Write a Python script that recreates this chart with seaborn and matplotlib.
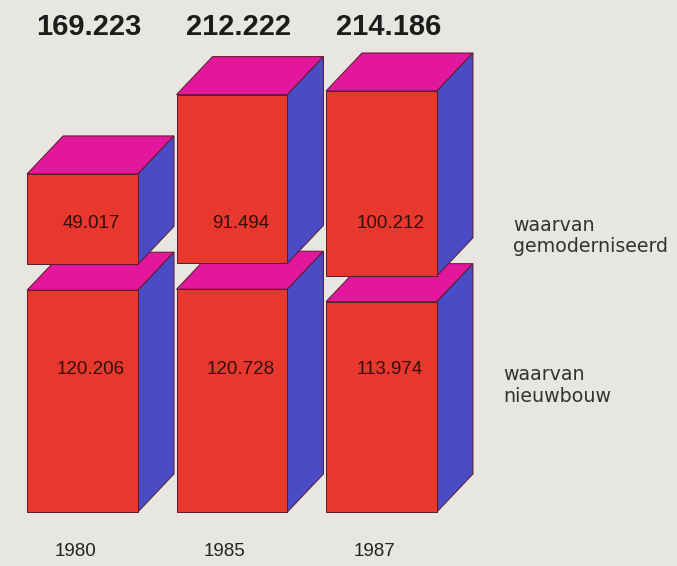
import matplotlib
matplotlib.use("Agg")
import matplotlib.pyplot as plt
from matplotlib.patches import Polygon
import seaborn as sns

# data (aantallen woningen x 1000)
years = ["1980", "1985", "1987"]
nieuwbouw = [120.206, 120.728, 113.974]
gemoderniseerd = [49.017, 91.494, 100.212]
totaal = [169.223, 212.222, 214.186]

# colours of the box faces
RED = "#e8372c"
MAGENTA = "#e2179b"
BLUE = "#4a4cc6"
BG = "#e7e6e0"
EDGE = "#5a1a2a"

# drawing style
BAR_W = 0.742   # front width in category units
DX = 0.241      # depth to the right (category units)
DY = 20.6       # depth upwards (data units)
GAP = 14        # lift of the upper block above the lower front

sns.set_style("white")
plt.rcParams["font.family"] = ["Liberation Sans", "DejaVu Sans"]

fig = plt.figure(figsize=(6.77, 5.66), dpi=100, facecolor=BG)
ax = fig.add_axes([0, 0, 1, 1])
ax.set_facecolor(BG)

# lower blocks: front faces through seaborn
sns.barplot(x=years, y=nieuwbouw, color=RED, saturation=1, width=BAR_W,
            edgecolor=EDGE, linewidth=0.7, zorder=3, ax=ax)
fronts = list(ax.patches)


def box_faces(x0, w, y0, h, z):
    x1 = x0 + w
    y1 = y0 + h
    top = Polygon([(x0, y1), (x1, y1), (x1 + DX, y1 + DY), (x0 + DX, y1 + DY)],
                  closed=True, facecolor=MAGENTA, edgecolor=EDGE, linewidth=0.7, zorder=z)
    side = Polygon([(x1, y0), (x1 + DX, y0 + DY), (x1 + DX, y1 + DY), (x1, y1)],
                   closed=True, facecolor=BLUE, edgecolor=EDGE, linewidth=0.7, zorder=z)
    ax.add_patch(top)
    ax.add_patch(side)


for p in fronts:
    box_faces(p.get_x(), p.get_width(), 0, p.get_height(), 2)

# upper blocks
xs = [p.get_x() for p in fronts]
ws = [p.get_width() for p in fronts]
bottoms = [v + GAP for v in nieuwbouw]
ax.bar(xs, gemoderniseerd, width=ws, bottom=bottoms, align="edge", color=RED,
       edgecolor=EDGE, linewidth=0.7, zorder=5)
for x0, w, b, h in zip(xs, ws, bottoms, gemoderniseerd):
    box_faces(x0, w, b, h, 4)

# labels
for i in range(len(years)):
    ax.text(i + 0.045, 263, f"{totaal[i]:.3f}", ha="center", va="center",
            fontsize=21, fontweight="bold", color="#1c1c1c", zorder=10)
    ax.text(i + 0.06, 156.6, f"{gemoderniseerd[i]:.3f}", ha="center", va="center",
            fontsize=13.5, color="#33100f", zorder=10)
    ax.text(i + 0.055, 77, f"{nieuwbouw[i]:.3f}", ha="center", va="center",
            fontsize=13.5, color="#33100f", zorder=10)
    ax.text(i - 0.05, -21.7, years[i], ha="center", va="center",
            fontsize=13.5, color="#222222", zorder=10)

ax.text(2.88, 149.6, "waarvan\ngemoderniseerd", ha="left", va="center",
        fontsize=13.7, family="DejaVu Sans", color="#333333", linespacing=1.15)
ax.text(2.813, 68.6, "waarvan\nnieuwbouw", ha="left", va="center",
        fontsize=13.7, family="DejaVu Sans", color="#333333", linespacing=1.15)

ax.set_xlim(-0.552, 3.977)
ax.set_ylim(-29.3, 277.5)
ax.axis("off")

fig.savefig("out.png", dpi=100, facecolor=BG)
